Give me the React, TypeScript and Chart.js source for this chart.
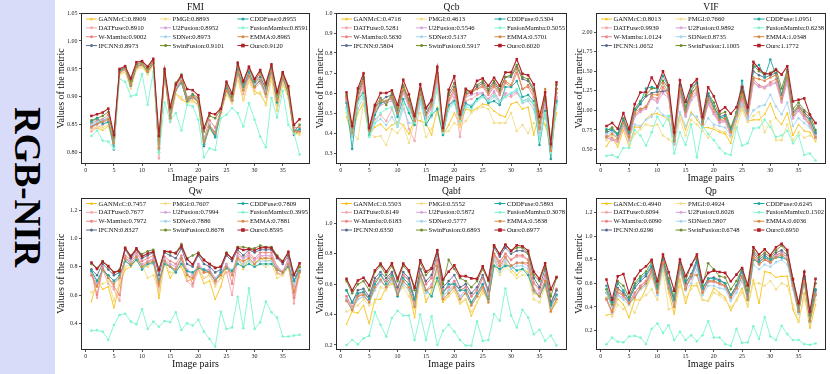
import React, { useEffect, useRef } from 'react';
import { Chart, registerables } from 'chart.js';

Chart.register(...registerables);

const SERIF = '"Liberation Serif", "Times New Roman", Times, serif';

// ---------- categories ----------
const METHODS = ['GANMcC', 'DATFuse', 'W-Mamba', 'IFCNN', 'PMGI', 'U2Fusion', 'SDNet', 'SwinFusion', 'CDDFuse', 'FusionMamba', 'EMMA', 'Ours'];
const IMAGE_PAIRS = [1,2,3,4,5,6,7,8,9,10,11,12,13,14,15,16,17,18,19,20,21,22,23,24,25,26,27,28,29,30,31,32,33,34,35,36,37,38];
const X_TICKS = [0, 5, 10, 15, 20, 25, 30, 35];

// ---------- FMI ----------
const FMI_SCORES = ['0.8909','0.8910','0.9002','0.8973','0.8893','0.8952','0.8973','0.9101','0.8955','0.8591','0.8965','0.9120'];
const FMI_TICKS = [0.80, 0.85, 0.90, 0.95, 1.00, 1.05];
const FMI_GANMCC = [.843,.845,.840,.848,.815,.940,.945,.915,.950,.955,.942,.958,.805,.940,.860,.905,.895,.890,.895,.885,.818,.845,.830,.872,.905,.890,.935,.893,.930,.910,.905,.888,.935,.875,.925,.900,.835,.835];
const FMI_DATFUSE = [.838,.845,.850,.855,.815,.942,.948,.920,.953,.957,.945,.960,.790,.942,.855,.912,.925,.895,.898,.890,.815,.845,.830,.872,.910,.892,.940,.905,.935,.915,.925,.900,.942,.885,.932,.905,.840,.838];
const FMI_WMAMBA = [.852,.858,.860,.868,.822,.947,.952,.925,.957,.960,.948,.963,.815,.946,.870,.918,.935,.900,.903,.895,.825,.858,.845,.876,.918,.898,.950,.920,.946,.928,.938,.912,.952,.900,.940,.912,.845,.845];
const FMI_IFCNN = [.848,.852,.858,.862,.806,.945,.950,.922,.955,.958,.948,.962,.800,.944,.862,.915,.930,.890,.900,.892,.812,.850,.832,.875,.915,.895,.945,.915,.940,.925,.935,.915,.948,.898,.938,.910,.832,.840];
const FMI_PMGI = [.842,.846,.845,.850,.812,.940,.944,.915,.949,.953,.940,.956,.800,.938,.858,.905,.900,.888,.892,.884,.815,.842,.828,.870,.905,.888,.932,.895,.928,.905,.908,.885,.930,.878,.922,.898,.835,.832];
const FMI_U2FUSION = [.845,.850,.855,.858,.818,.944,.950,.922,.955,.958,.946,.961,.808,.944,.860,.914,.928,.896,.900,.893,.820,.848,.835,.874,.912,.893,.944,.912,.938,.920,.930,.908,.946,.892,.935,.908,.842,.840];
const FMI_SDNET = [.850,.855,.858,.862,.820,.945,.951,.923,.955,.959,.947,.962,.810,.945,.866,.915,.930,.898,.901,.894,.822,.850,.838,.875,.914,.895,.946,.914,.940,.922,.932,.910,.948,.895,.937,.909,.840,.842];
const FMI_SWIN = [.858,.862,.866,.873,.826,.948,.953,.928,.958,.962,.950,.965,.822,.946,.878,.925,.940,.896,.905,.898,.838,.866,.862,.877,.922,.900,.957,.925,.952,.928,.944,.920,.955,.905,.942,.915,.838,.850];
const FMI_CDDFUSE = [.855,.862,.852,.855,.812,.946,.952,.920,.954,.958,.945,.960,.805,.945,.865,.912,.925,.893,.902,.890,.815,.846,.828,.873,.914,.894,.948,.918,.944,.918,.930,.905,.950,.890,.935,.905,.838,.842];
const FMI_FUSIONMAMBA = [.830,.840,.822,.820,.807,.932,.927,.901,.904,.941,.886,.945,.800,.890,.857,.871,.840,.886,.883,.859,.792,.808,.805,.862,.868,.880,.871,.847,.889,.859,.829,.810,.898,.863,.911,.850,.835,.797];
const FMI_EMMA = [.846,.852,.856,.860,.818,.944,.950,.922,.954,.958,.946,.961,.808,.944,.862,.913,.928,.895,.900,.892,.820,.848,.836,.874,.912,.894,.945,.912,.938,.918,.930,.906,.946,.893,.935,.907,.838,.838];
const FMI_OURS = [.866,.869,.872,.879,.832,.950,.955,.933,.962,.964,.954,.968,.830,.950,.882,.922,.938,.914,.912,.903,.844,.871,.869,.879,.927,.906,.961,.928,.954,.932,.948,.924,.958,.909,.944,.919,.850,.860];

// ---------- Qcb ----------
const QCB_SCORES = ['0.4716','0.5281','0.5630','0.5804','0.4613','0.5546','0.5137','0.5917','0.5304','0.5055','0.5701','0.6020'];
const QCB_TICKS = [0.3, 0.4, 0.5, 0.6, 0.7, 0.8, 0.9, 1.0];
const QCB_GANMCC = [.48,.39,.50,.55,.39,.43,.445,.415,.44,.455,.44,.395,.47,.46,.45,.39,.53,.39,.44,.50,.44,.52,.51,.525,.545,.54,.51,.49,.48,.545,.555,.52,.53,.39,.51,.44,.34,.50];
const QCB_DATFUSE = [.56,.40,.55,.62,.39,.47,.49,.46,.52,.44,.55,.42,.36,.56,.47,.50,.65,.40,.53,.58,.38,.56,.57,.59,.60,.56,.60,.55,.59,.58,.60,.56,.57,.54,.40,.54,.32,.57];
const QCB_WMAMBA = [.57,.40,.58,.65,.40,.51,.55,.56,.57,.50,.61,.54,.46,.59,.49,.53,.68,.40,.56,.61,.47,.59,.60,.62,.63,.59,.63,.59,.65,.63,.70,.62,.63,.58,.42,.56,.33,.60];
const QCB_IFCNN = [.58,.41,.60,.67,.41,.53,.56,.58,.59,.51,.63,.56,.47,.61,.50,.55,.70,.41,.59,.63,.48,.60,.60,.63,.65,.61,.65,.61,.68,.68,.73,.67,.66,.61,.43,.57,.33,.62];
const QCB_PMGI = [.50,.40,.37,.55,.40,.38,.385,.34,.42,.40,.44,.35,.46,.50,.38,.42,.50,.40,.41,.45,.43,.46,.50,.52,.53,.52,.45,.45,.45,.50,.41,.44,.40,.45,.44,.50,.33,.55];
const QCB_U2FUSION = [.56,.39,.57,.64,.40,.50,.54,.55,.56,.49,.60,.53,.46,.58,.48,.52,.67,.40,.55,.60,.46,.58,.59,.60,.60,.57,.61,.56,.60,.59,.61,.56,.57,.55,.42,.55,.34,.58];
const QCB_SDNET = [.53,.38,.52,.58,.39,.45,.47,.44,.48,.43,.52,.45,.45,.55,.45,.48,.64,.39,.52,.56,.46,.54,.54,.57,.58,.55,.58,.55,.58,.60,.61,.55,.56,.52,.38,.50,.33,.55];
const QCB_SWIN = [.59,.42,.61,.68,.42,.53,.575,.54,.60,.52,.64,.57,.48,.62,.52,.56,.72,.42,.60,.65,.49,.61,.61,.64,.66,.62,.66,.62,.68,.69,.74,.68,.67,.62,.45,.58,.35,.64];
const QCB_CDDFUSE = [.55,.32,.57,.60,.39,.49,.55,.56,.58,.48,.57,.50,.44,.60,.44,.49,.52,.39,.54,.56,.46,.55,.53,.57,.59,.55,.56,.54,.63,.63,.66,.58,.59,.56,.34,.51,.27,.56];
const QCB_FUSIONMAMBA = [.52,.40,.55,.59,.38,.45,.50,.52,.53,.44,.55,.52,.45,.58,.46,.50,.62,.40,.52,.55,.46,.53,.52,.56,.58,.56,.59,.56,.58,.60,.62,.56,.57,.55,.36,.50,.30,.54];
const QCB_EMMA = [.58,.40,.58,.66,.41,.52,.56,.56,.58,.50,.62,.55,.46,.60,.49,.54,.69,.41,.57,.62,.47,.59,.61,.62,.64,.60,.64,.60,.66,.64,.72,.62,.64,.60,.42,.62,.31,.62];
const QCB_OURS = [.603,.435,.623,.698,.425,.540,.600,.600,.613,.540,.666,.593,.486,.643,.526,.565,.731,.427,.616,.684,.493,.621,.600,.661,.673,.636,.676,.636,.703,.703,.769,.696,.689,.643,.481,.603,.345,.653];

// ---------- VIF ----------
const VIF_SCORES = ['0.8013','0.9939','1.0124','1.0652','0.7660','0.9892','0.8735','1.1005','1.0951','0.6238','1.0348','1.1772'];
const VIF_TICKS = [0.50, 0.75, 1.00, 1.25, 1.50, 1.75, 2.00];
const VIF_GANMCC = [.54,.66,.53,.75,.54,.79,.78,.89,.95,.96,.93,.88,.60,.96,.75,.98,.88,.78,.78,.76,.72,.70,.58,.86,1.05,.86,.88,.88,.95,1.09,.90,.82,.97,.68,.82,.74,.72,.60];
const VIF_DATFUSE = [.66,.62,.60,.80,.62,.93,.98,1.05,1.16,1.12,1.28,1.18,.56,1.22,.93,1.15,1.22,.80,1.10,.96,.84,.86,.68,.90,1.12,.90,1.36,1.30,1.28,1.34,1.36,1.10,1.38,.90,1.00,.90,.80,.64];
const VIF_WMAMBA = [.68,.64,.62,.82,.64,.95,1.00,1.05,1.18,1.15,1.30,1.20,.58,1.25,.95,1.18,1.25,.82,1.12,.98,.86,.88,.70,.92,1.15,.92,1.40,1.32,1.30,1.36,1.40,1.12,1.42,.92,1.02,.92,.82,.65];
const VIF_IFCNN = [.72,.75,.68,.86,.70,.98,1.08,1.18,1.22,1.24,1.24,1.26,.64,1.30,1.02,1.22,1.30,.86,1.18,1.05,.92,.94,.76,.95,1.22,.98,1.50,1.45,1.42,1.45,1.48,1.20,1.50,.98,1.06,.98,.90,.70];
const VIF_PMGI = [.62,.68,.56,.78,.56,.70,.76,.82,.80,.82,.68,.63,.57,.88,.68,.88,.82,.74,.65,.79,.74,.72,.65,.78,1.00,.85,.93,.98,.72,.86,.62,.62,.82,.62,.72,.65,.68,.62];
const VIF_U2FUSION = [.65,.63,.60,.80,.62,.92,.98,1.02,1.15,1.10,1.22,1.16,.57,1.20,.92,1.13,1.20,.82,1.08,.95,.84,.86,.70,.90,1.10,.90,1.35,1.30,1.30,1.32,1.35,1.12,1.35,.90,1.00,.90,.82,.65];
const VIF_SDNET = [.70,.72,.65,.82,.66,.82,.80,.88,.92,1.03,.94,.92,.58,.98,.80,.95,.92,.78,.90,.82,.80,.78,.68,.90,1.08,.88,1.00,1.05,1.07,1.20,1.05,.95,1.10,.80,.90,.84,.78,.68];
const VIF_SWIN = [.74,.78,.70,.90,.72,1.02,1.12,1.20,1.28,1.28,1.38,1.28,.66,1.33,1.05,1.25,1.36,.88,1.22,1.10,.95,.98,.78,.98,1.25,1.00,1.58,1.50,1.46,1.48,1.53,1.28,1.52,1.02,1.10,1.00,.95,.75];
const VIF_CDDFUSE = [.76,.75,.70,.88,.72,1.00,1.10,1.28,1.30,1.28,1.44,1.30,.62,1.32,1.00,1.30,1.35,.85,1.22,1.05,.90,.92,.75,.96,1.38,1.00,1.55,1.58,1.42,1.65,1.45,1.20,1.45,.95,1.05,.95,.88,.72];
const VIF_FUSIONMAMBA = [.42,.43,.40,.52,.52,.75,.68,.55,.72,.92,.80,.93,.45,.72,.56,.82,.40,.80,.70,.62,.52,.45,.43,.78,.55,.58,.77,.78,.88,.79,.66,.68,.74,.58,.68,.43,.45,.36];
const VIF_EMMA = [.66,.70,.64,.84,.66,.98,1.02,1.04,1.20,1.20,1.35,1.22,.60,1.28,.98,1.20,1.30,.82,1.15,1.02,.88,.90,.72,.94,1.20,.96,1.42,1.40,1.38,1.42,1.45,1.15,1.45,.95,1.05,.95,.85,.66];
const VIF_OURS = [.80,.84,.765,.966,.76,1.08,1.23,1.235,1.42,1.30,1.50,1.32,.72,1.385,1.11,1.32,1.40,.915,1.295,1.18,.987,1.04,.957,1.04,1.30,1.04,1.62,1.53,1.47,1.466,1.52,1.457,1.564,1.115,1.137,1.154,.944,.838];

// ---------- Qw ----------
const QW_SCORES = ['0.7457','0.7677','0.7972','0.8327','0.7607','0.7994','0.7886','0.8678','0.7809','0.3995','0.7881','0.8595'];
const QW_TICKS = [0.4, 0.6, 0.8, 1.0, 1.2];
const QW_GANMCC = [.553,.706,.64,.659,.51,.67,.78,.80,.85,.82,.80,.84,.576,.84,.72,.78,.80,.70,.71,.78,.68,.70,.57,.66,.80,.76,.88,.78,.86,.82,.86,.84,.85,.75,.74,.80,.62,.73];
const QW_DATFUSE = [.76,.58,.78,.68,.64,.56,.86,.84,.88,.80,.84,.86,.62,.84,.80,.78,.85,.70,.66,.78,.72,.74,.68,.72,.76,.60,.86,.82,.88,.84,.88,.86,.88,.76,.74,.82,.54,.76];
const QW_WMAMBA = [.78,.60,.80,.72,.66,.60,.88,.85,.90,.84,.86,.88,.66,.87,.84,.82,.88,.76,.68,.82,.76,.78,.70,.75,.82,.68,.90,.86,.90,.86,.90,.90,.90,.80,.76,.86,.58,.78];
const QW_IFCNN = [.78,.74,.82,.78,.74,.76,.92,.86,.92,.86,.88,.90,.74,.90,.88,.86,.93,.82,.80,.88,.82,.80,.76,.78,.88,.84,.92,.88,.92,.90,.92,.92,.92,.86,.82,.88,.70,.80];
const QW_PMGI = [.62,.66,.68,.70,.56,.70,.80,.82,.84,.82,.72,.74,.62,.82,.76,.76,.83,.72,.74,.80,.72,.74,.66,.72,.80,.76,.84,.82,.84,.80,.82,.80,.82,.72,.74,.80,.66,.78];
const QW_U2FUSION = [.76,.68,.78,.74,.70,.72,.86,.84,.88,.82,.84,.85,.70,.85,.82,.80,.86,.78,.74,.82,.78,.78,.72,.76,.82,.76,.88,.86,.88,.85,.88,.88,.88,.80,.77,.84,.66,.78];
const QW_SDNET = [.77,.70,.77,.74,.70,.72,.84,.82,.86,.80,.82,.82,.70,.83,.80,.76,.84,.76,.76,.80,.78,.76,.70,.76,.80,.78,.84,.82,.84,.82,.84,.84,.84,.78,.76,.82,.68,.78];
const QW_SWIN = [.82,.79,.84,.80,.76,.78,.93,.88,.92,.89,.91,.92,.78,.91,.90,.90,.96,.86,.88,.90,.85,.82,.79,.80,.90,.86,.94,.94,.93,.93,.95,.94,.94,.88,.84,.90,.74,.80];
const QW_CDDFUSE = [.77,.70,.78,.74,.70,.74,.84,.81,.85,.78,.82,.83,.70,.82,.80,.76,.82,.77,.76,.79,.78,.76,.70,.76,.79,.77,.82,.80,.82,.80,.82,.82,.82,.78,.76,.80,.70,.77];
const QW_FUSIONMAMBA = [.348,.35,.341,.282,.388,.459,.468,.412,.393,.50,.36,.412,.376,.416,.407,.478,.353,.40,.384,.424,.341,.289,.235,.482,.36,.37,.588,.365,.647,.36,.407,.553,.478,.44,.306,.306,.313,.318];
const QW_EMMA = [.74,.66,.78,.72,.68,.72,.86,.82,.87,.80,.83,.84,.68,.84,.80,.78,.86,.74,.72,.80,.76,.76,.70,.74,.80,.74,.86,.84,.86,.82,.86,.86,.86,.78,.76,.82,.62,.76];
const QW_OURS = [.83,.784,.835,.805,.76,.77,.934,.873,.93,.873,.894,.906,.776,.91,.906,.894,.946,.854,.816,.894,.847,.819,.793,.80,.894,.859,.934,.918,.925,.915,.934,.936,.932,.87,.835,.906,.741,.824];

// ---------- Qabf ----------
const QABF_SCORES = ['0.5503','0.6149','0.6183','0.6350','0.5552','0.5872','0.5777','0.6893','0.5893','0.3078','0.5838','0.6977'];
const QABF_TICKS = [0.2, 0.4, 0.6, 0.8, 1.0];
const QABF_GANMCC = [.337,.42,.41,.46,.34,.50,.50,.58,.60,.58,.60,.56,.38,.66,.48,.56,.62,.48,.52,.56,.47,.50,.39,.48,.56,.50,.76,.68,.74,.70,.66,.70,.68,.54,.52,.60,.42,.48];
const QABF_DATFUSE = [.52,.44,.52,.54,.50,.62,.66,.62,.67,.56,.66,.62,.48,.70,.60,.64,.76,.55,.58,.62,.56,.58,.52,.56,.64,.54,.80,.74,.80,.76,.78,.78,.76,.60,.56,.66,.46,.56];
const QABF_WMAMBA = [.52,.45,.53,.55,.51,.62,.66,.62,.67,.57,.66,.63,.49,.70,.60,.64,.76,.56,.58,.62,.56,.58,.52,.56,.64,.55,.80,.75,.80,.76,.79,.79,.76,.61,.57,.66,.47,.57];
const QABF_IFCNN = [.56,.48,.56,.57,.52,.64,.68,.64,.68,.58,.68,.64,.50,.70,.62,.66,.80,.58,.62,.66,.58,.60,.54,.58,.66,.56,.84,.78,.84,.80,.82,.82,.80,.64,.58,.70,.48,.56];
const QABF_PMGI = [.42,.44,.46,.50,.46,.48,.58,.56,.62,.54,.58,.52,.44,.62,.50,.54,.68,.50,.52,.56,.48,.50,.42,.48,.54,.50,.72,.66,.72,.68,.64,.66,.66,.50,.48,.58,.42,.50];
const QABF_U2FUSION = [.50,.43,.50,.52,.48,.58,.62,.58,.64,.54,.62,.58,.46,.66,.56,.60,.72,.52,.56,.60,.52,.56,.48,.52,.60,.52,.78,.70,.77,.72,.74,.74,.72,.57,.54,.63,.44,.53];
const QABF_SDNET = [.50,.44,.50,.52,.48,.56,.62,.58,.62,.52,.60,.56,.46,.64,.54,.58,.70,.52,.56,.58,.52,.54,.46,.52,.58,.50,.76,.68,.75,.70,.72,.72,.70,.55,.52,.60,.44,.52];
const QABF_SWIN = [.62,.54,.60,.62,.56,.68,.72,.66,.72,.62,.72,.68,.56,.74,.66,.70,.82,.60,.76,.70,.64,.62,.58,.62,.70,.62,.85,.80,.86,.82,.84,.84,.80,.66,.62,.72,.52,.64];
const QABF_CDDFUSE = [.56,.48,.54,.55,.50,.60,.66,.60,.66,.52,.64,.60,.50,.66,.56,.52,.64,.54,.60,.60,.56,.56,.48,.54,.60,.50,.72,.70,.72,.72,.69,.70,.66,.56,.52,.60,.46,.53];
const QABF_FUSIONMAMBA = [.20,.233,.204,.244,.26,.417,.333,.255,.377,.425,.394,.394,.233,.40,.233,.388,.20,.293,.333,.288,.233,.196,.196,.355,.227,.233,.403,.359,.571,.394,.315,.432,.381,.271,.30,.227,.262,.196];
const QABF_EMMA = [.49,.43,.52,.53,.48,.58,.63,.58,.64,.53,.62,.58,.45,.66,.56,.58,.72,.50,.54,.58,.50,.54,.46,.52,.58,.48,.80,.72,.78,.72,.74,.74,.74,.56,.52,.62,.42,.50];
const QABF_OURS = [.635,.558,.624,.642,.591,.69,.735,.682,.737,.638,.735,.69,.576,.757,.682,.704,.823,.631,.682,.724,.653,.653,.638,.635,.717,.631,.856,.797,.859,.819,.856,.85,.819,.682,.635,.737,.565,.647];

// ---------- Qp ----------
const QP_SCORES = ['0.4940','0.6094','0.6090','0.6296','0.4924','0.6026','0.5807','0.6748','0.6245','0.1502','0.6036','0.6950'];
const QP_TICKS = [0.2, 0.4, 0.6, 0.8, 1.0, 1.2];
const QP_GANMCC = [.33,.34,.47,.42,.31,.46,.46,.56,.66,.52,.76,.52,.34,.64,.43,.58,.58,.46,.45,.56,.52,.48,.37,.46,.56,.40,.63,.43,.70,.69,.65,.66,.66,.38,.27,.52,.22,.42];
const QP_DATFUSE = [.47,.34,.52,.50,.44,.52,.58,.62,.72,.52,.78,.58,.42,.74,.56,.66,.78,.52,.62,.62,.60,.58,.48,.56,.66,.48,.84,.78,.82,.78,.84,.86,.82,.58,.36,.64,.28,.52];
const QP_WMAMBA = [.46,.36,.52,.50,.44,.52,.58,.62,.71,.52,.78,.58,.42,.73,.57,.65,.77,.52,.62,.62,.60,.58,.48,.56,.66,.48,.84,.78,.82,.78,.84,.86,.82,.58,.36,.64,.28,.51];
const QP_IFCNN = [.52,.40,.56,.52,.46,.56,.62,.66,.74,.55,.80,.60,.45,.76,.60,.68,.80,.55,.64,.65,.63,.60,.50,.58,.70,.50,.86,.80,.84,.80,.86,.88,.84,.60,.38,.66,.30,.54];
const QP_PMGI = [.48,.32,.42,.38,.42,.35,.47,.50,.55,.46,.70,.38,.40,.58,.48,.55,.60,.46,.45,.52,.50,.46,.40,.45,.52,.42,.60,.60,.58,.62,.55,.60,.58,.42,.28,.48,.26,.46];
const QP_U2FUSION = [.46,.35,.50,.48,.43,.50,.56,.60,.70,.51,.77,.57,.42,.72,.56,.64,.76,.52,.61,.61,.59,.57,.47,.55,.65,.48,.82,.76,.80,.77,.83,.85,.82,.57,.36,.63,.28,.51];
const QP_SDNET = [.52,.40,.50,.46,.42,.48,.55,.58,.68,.50,.74,.55,.42,.70,.54,.60,.72,.50,.58,.58,.56,.55,.45,.52,.62,.46,.76,.72,.76,.74,.78,.80,.76,.55,.34,.60,.27,.50];
const QP_SWIN = [.55,.42,.62,.58,.48,.60,.66,.70,.78,.58,.82,.64,.48,.78,.62,.76,.82,.58,.77,.72,.66,.65,.55,.62,.72,.54,.88,.82,.86,.82,.88,.92,.86,.64,.42,.70,.33,.60];
const QP_CDDFUSE = [.58,.44,.60,.54,.46,.58,.64,.68,.75,.56,.80,.62,.46,.76,.62,.66,.78,.56,.64,.64,.62,.60,.50,.58,.72,.46,.80,.78,.82,.80,.82,.82,.80,.60,.36,.64,.28,.55];
const QP_FUSIONMAMBA = [.084,.14,.105,.10,.15,.155,.14,.085,.215,.26,.18,.245,.12,.19,.12,.16,.11,.16,.28,.14,.14,.085,.07,.215,.095,.10,.235,.13,.315,.15,.12,.24,.17,.12,.12,.085,.08,.09];
const QP_EMMA = [.47,.36,.55,.50,.43,.48,.56,.60,.70,.52,.78,.56,.40,.74,.55,.67,.67,.52,.62,.62,.60,.58,.48,.56,.66,.46,.82,.76,.80,.78,.82,.84,.80,.58,.36,.62,.28,.50];
const QP_OURS = [.632,.461,.66,.68,.518,.638,.708,.745,.80,.618,.845,.694,.538,.802,.66,.754,.845,.612,.689,.708,.697,.689,.618,.674,.731,.584,.907,.845,.888,.839,.907,.936,.882,.632,.433,.697,.362,.638];

// ---------- styles (separate from data) ----------
const COLORS = ['#f7c31a', '#f3a9ad', '#ec8585', '#5a6d8e', '#f1df8e', '#d6a6d8', '#a6d6ee', '#6e8d2c', '#1ea9a3', '#7ff5d0', '#d88a48', '#b01f28'];
const MARKERS = ['triangle', 'circle', 'circle', 'circle', 'circle', 'circle', 'circle', 'circle', 'circle', 'circle', 'circle', 'rect'];

type Metric = { title: string; series: number[][]; scores: string[]; ticks: number[]; min: number; max: number; dec: number };

const METRICS: Metric[] = [
  { title: 'FMI', scores: FMI_SCORES, ticks: FMI_TICKS, min: 0.78, max: 1.05, dec: 2,
    series: [FMI_GANMCC, FMI_DATFUSE, FMI_WMAMBA, FMI_IFCNN, FMI_PMGI, FMI_U2FUSION, FMI_SDNET, FMI_SWIN, FMI_CDDFUSE, FMI_FUSIONMAMBA, FMI_EMMA, FMI_OURS] },
  { title: 'Qcb', scores: QCB_SCORES, ticks: QCB_TICKS, min: 0.245, max: 1.0, dec: 1,
    series: [QCB_GANMCC, QCB_DATFUSE, QCB_WMAMBA, QCB_IFCNN, QCB_PMGI, QCB_U2FUSION, QCB_SDNET, QCB_SWIN, QCB_CDDFUSE, QCB_FUSIONMAMBA, QCB_EMMA, QCB_OURS] },
  { title: 'VIF', scores: VIF_SCORES, ticks: VIF_TICKS, min: 0.315, max: 2.245, dec: 2,
    series: [VIF_GANMCC, VIF_DATFUSE, VIF_WMAMBA, VIF_IFCNN, VIF_PMGI, VIF_U2FUSION, VIF_SDNET, VIF_SWIN, VIF_CDDFUSE, VIF_FUSIONMAMBA, VIF_EMMA, VIF_OURS] },
  { title: 'Qw', scores: QW_SCORES, ticks: QW_TICKS, min: 0.211, max: 1.29, dec: 1,
    series: [QW_GANMCC, QW_DATFUSE, QW_WMAMBA, QW_IFCNN, QW_PMGI, QW_U2FUSION, QW_SDNET, QW_SWIN, QW_CDDFUSE, QW_FUSIONMAMBA, QW_EMMA, QW_OURS] },
  { title: 'Qabf', scores: QABF_SCORES, ticks: QABF_TICKS, min: 0.167, max: 1.17, dec: 1,
    series: [QABF_GANMCC, QABF_DATFUSE, QABF_WMAMBA, QABF_IFCNN, QABF_PMGI, QABF_U2FUSION, QABF_SDNET, QABF_SWIN, QABF_CDDFUSE, QABF_FUSIONMAMBA, QABF_EMMA, QABF_OURS] },
  { title: 'Qp', scores: QP_SCORES, ticks: QP_TICKS, min: 0.035, max: 1.328, dec: 1,
    series: [QP_GANMCC, QP_DATFUSE, QP_WMAMBA, QP_IFCNN, QP_PMGI, QP_U2FUSION, QP_SDNET, QP_SWIN, QP_CDDFUSE, QP_FUSIONMAMBA, QP_EMMA, QP_OURS] },
];

// layout of the 2x3 grid
const COLS = [
  { x: 50, w: 270, yAxisW: 31, padR: 10, ylabelX: 11 },
  { x: 310, w: 265, yAxisW: 26, padR: 8, ylabelX: 10.7 },
  { x: 570, w: 260, yAxisW: 26, padR: 4, ylabelX: 9.5 },
];
const ROWS = [
  { y: 0, h: 187, padT: 13, xAxisH: 23 },
  { y: 187, h: 187, padT: 10.5, xAxisH: 24 },
];

function drawMarker(ctx: CanvasRenderingContext2D, style: string, x: number, y: number, r: number) {
  ctx.beginPath();
  if (style === 'rect') {
    ctx.rect(x - r, y - r, 2 * r, 2 * r);
  } else if (style === 'triangle') {
    ctx.moveTo(x, y - r * 1.2);
    ctx.lineTo(x + r * 1.1, y + r * 0.8);
    ctx.lineTo(x - r * 1.1, y + r * 0.8);
    ctx.closePath();
  } else {
    ctx.arc(x, y, r, 0, Math.PI * 2);
  }
  ctx.fill();
}

const decorPlugin = {
  id: 'decor',
  afterDraw(chart: any, _args: any, opts: any) {
    const ctx: CanvasRenderingContext2D = chart.ctx;
    const { left, right, top, bottom } = chart.chartArea;
    ctx.save();
    // frame (all four spines)
    ctx.strokeStyle = '#2a2a2a';
    ctx.lineWidth = 1;
    ctx.strokeRect(Math.round(left) + 0.5, Math.round(top) + 0.5, Math.round(right) - Math.round(left) - 1, Math.round(bottom) - Math.round(top) - 1);

    ctx.fillStyle = '#111';
    // title
    ctx.font = `9.5px ${SERIF}`;
    ctx.textAlign = 'center';
    ctx.textBaseline = 'middle';
    ctx.fillText(opts.title, (left + right) / 2, top - 5.8);
    // x label
    ctx.font = `10px ${SERIF}`;
    ctx.fillText('Image pairs', (left + right) / 2, bottom + 14.3);
    // y label
    ctx.save();
    ctx.translate(opts.ylabelX, (top + bottom) / 2);
    ctx.rotate(-Math.PI / 2);
    ctx.fillText('Values of the metric', 0, 0);
    ctx.restore();

    // legend, 3 columns x 4 rows, spanning the axes width
    const fs = 6.6;
    ctx.font = `${fs}px ${SERIF}`;
    ctx.textAlign = 'left';
    const labels = METHODS.map((m, i) => `${m}:${opts.scores[i]}`);
    const handle = 12.5;
    const colW = [0, 1, 2].map(c => handle + Math.max(...[0, 1, 2, 3].map(r => ctx.measureText(labels[c * 4 + r]).width)));
    const x0 = left + 5;
    const avail = right - 2 - x0;
    const gap = Math.max(6, (avail - colW[0] - colW[1] - colW[2]) / 2);
    let cx = x0;
    for (let c = 0; c < 3; c++) {
      for (let r = 0; r < 4; r++) {
        const i = c * 4 + r;
        const y = top + 6 + 8.85 * r;
        ctx.strokeStyle = COLORS[i];
        ctx.fillStyle = COLORS[i];
        ctx.lineWidth = 1;
        ctx.beginPath();
        ctx.moveTo(cx, y);
        ctx.lineTo(cx + handle - 1.5, y);
        ctx.stroke();
        drawMarker(ctx, MARKERS[i], cx + (handle - 1.5) / 2, y, i === 11 ? 1.8 : 1.5);
        ctx.fillStyle = '#111';
        ctx.fillText(labels[i], cx + handle, y + 0.3);
      }
      cx += colW[c] + gap;
    }
    ctx.restore();
  },
};

function MetricChart({ metric, col, row }: { metric: Metric; col: typeof COLS[number]; row: typeof ROWS[number] }) {
  const ref = useRef<HTMLCanvasElement>(null);
  useEffect(() => {
    const canvas = ref.current!;
    const datasets = METHODS.map((name, i) => ({
      label: name,
      data: metric.series[i].map((v, j) => ({ x: IMAGE_PAIRS[j], y: v })),
      borderColor: COLORS[i],
      backgroundColor: COLORS[i],
      borderWidth: i === 11 ? 1.1 : 0.9,
      pointRadius: i === 11 ? 1.8 : 1.3,
      pointStyle: MARKERS[i],
      pointBorderWidth: 0,
      tension: 0,
      order: 11 - i,
    }));
    const tickFont = { family: SERIF, size: 6 };
    const chart = new Chart(canvas, {
      type: 'line',
      data: { datasets } as any,
      options: {
        animation: false,
        responsive: false,
        devicePixelRatio: 1,
        layout: { padding: { top: row.padT, right: col.padR, bottom: 0, left: 0 } },
        plugins: {
          legend: { display: false },
          tooltip: { enabled: false },
          title: { display: false },
          decor: { title: metric.title, scores: metric.scores, ylabelX: col.ylabelX },
        } as any,
        scales: {
          x: {
            type: 'linear',
            min: -0.85,
            max: 39.85,
            afterBuildTicks: (axis: any) => { axis.ticks = X_TICKS.map(v => ({ value: v })); },
            afterFit: (s: any) => { s.height = row.xAxisH; },
            grid: { display: true, drawOnChartArea: false, drawTicks: true, tickLength: 2, color: '#2a2a2a', lineWidth: 0.8 },
            border: { display: false },
            ticks: { font: tickFont, color: '#222', padding: 1, maxRotation: 0, autoSkip: false, callback: (v: any) => String(v) },
          },
          y: {
            type: 'linear',
            min: metric.min,
            max: metric.max,
            afterBuildTicks: (axis: any) => { axis.ticks = metric.ticks.map(v => ({ value: v })); },
            afterFit: (s: any) => { s.width = col.yAxisW; },
            grid: { display: true, drawOnChartArea: false, drawTicks: true, tickLength: 2, color: '#2a2a2a', lineWidth: 0.8 },
            border: { display: false },
            ticks: { font: tickFont, color: '#222', padding: 1.5, autoSkip: false, callback: (v: any) => Number(v).toFixed(metric.dec) },
          },
        },
      } as any,
      plugins: [decorPlugin as any],
    });
    return () => chart.destroy();
  }, []);
  return (
    <canvas
      ref={ref}
      width={col.w}
      height={row.h}
      style={{ position: 'absolute', left: col.x, top: row.y, width: col.w, height: row.h }}
    />
  );
}

export default function App() {
  return (
    <div style={{ position: 'absolute', left: 0, top: 0, width: 830, height: 374, background: '#fff', overflow: 'hidden' }}>
      <div
        style={{
          position: 'absolute', left: 0, top: 0, width: 55, height: 374, background: '#d9dcf9',
          display: 'flex', alignItems: 'center', justifyContent: 'center',
        }}
      >
        <span style={{ writingMode: 'vertical-rl', fontFamily: SERIF, fontWeight: 'bold', fontSize: 37, lineHeight: 1, color: '#000' }}>
          RGB-NIR
        </span>
      </div>
      {METRICS.map((m, k) => (
        <MetricChart key={m.title} metric={m} col={COLS[k % 3]} row={ROWS[Math.floor(k / 3)]} />
      ))}
    </div>
  );
}
